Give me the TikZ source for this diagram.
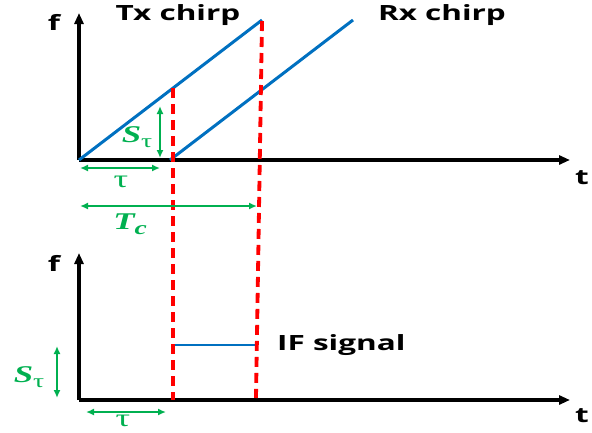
\documentclass[tikz,border=0pt]{standalone}
\usepackage{fontspec}
\setmainfont{Open Sans}[FakeStretch=1.5]
\newfontfamily\symfont{Liberation Serif}[FakeStretch=1.45]
\usepackage{tikz}
\usetikzlibrary{arrows.meta}
\definecolor{chirpblue}{RGB}{0,112,192}
\definecolor{markgreen}{RGB}{0,176,80}
\tikzset{
  axis/.style={line width=3.2pt, -{Triangle[length=11pt,width=9pt]}},
  chirp/.style={line width=3pt, chirpblue},
  cut/.style={line width=3.8pt, red, dash pattern=on 10pt off 6pt},
  span/.style={line width=1.8pt, markgreen, {Latex[length=8pt,width=7pt]}-{Latex[length=8pt,width=7pt]}},
  word/.style={font=\fontsize{21}{24}\selectfont\bfseries, inner sep=0pt},
  sym/.style={font=\fontsize{24}{26}\selectfont\symfont\bfseries\itshape, text=markgreen, inner sep=0pt},
  tau/.style={font=\fontsize{25}{26}\selectfont\symfont, text=markgreen, inner sep=0pt}
}
\newcommand{\subtau}{\raisebox{-5pt}{\normalfont\symfont\fontsize{19}{19}\selectfont τ}}
\begin{document}
\begin{tikzpicture}[x=1pt,y=-1pt]
\useasboundingbox (0,0) rectangle (592,432);
% top plot
\coordinate (o1) at (79,160);
\coordinate (f1) at (79,13);
\coordinate (t1) at (570,160);
\draw[axis] (o1) -- (f1);
\draw[axis] (o1) -- (t1);
\node[word] (flab1) at (54,22) {f};
\node[word] (tlab1) at (582,178) {t};
\coordinate (txend) at (262,20);
\coordinate (rxbeg) at (170,160);
\coordinate (rxend) at (353,20);
\draw[chirp] (o1) -- (txend);
\draw[chirp] (rxbeg) -- (rxend);
\node[word] (txlab) at (178,15) {Tx chirp};
\node[word] (rxlab) at (442,15) {Rx chirp};
% bottom plot
\coordinate (o2) at (79,400);
\coordinate (f2) at (79,253);
\coordinate (t2) at (570,400);
\draw[axis] (o2) -- (f2);
\draw[axis] (o2) -- (t2);
\node[word] (flab2) at (54,263) {f};
\node[word] (tlab2) at (582,416) {t};
\coordinate (ifbeg) at (172,345);
\coordinate (ifend) at (258,345);
\draw[chirp, line width=2.2pt] (ifbeg) -- (ifend);
\node[word, anchor=west] (iflab) at (277,345) {IF signal};
% red cuts
\coordinate (cutA) at (173,88);
\coordinate (cutAb) at (173,400);
\coordinate (cutB) at (262,21);
\coordinate (cutBb) at (256,398);
\draw[cut] (cutA) -- (cutAb);
\draw[cut] (cutB) -- (cutBb);
% green marks
\coordinate (sa) at (160,106);
\coordinate (sb) at (160,158);
\draw[span] (sa) -- (sb);
\node[sym] (slab1) at (137,137) {S\subtau};
\coordinate (ta) at (80,168);
\coordinate (tb) at (160,168);
\draw[span] (ta) -- (tb);
\node[tau] (taulab1) at (121,182) {τ};
\coordinate (ca) at (80,206);
\coordinate (cb) at (257,206);
\draw[span] (ca) -- (cb);
\node[sym] (tclab) at (130,224) {T\raisebox{-5pt}{\fontsize{19}{19}\selectfont c}};
\coordinate (sc) at (57,346);
\coordinate (sd) at (57,398);
\draw[span] (sc) -- (sd);
\node[sym] (slab2) at (29,377) {S\subtau};
\coordinate (tc) at (86,412);
\coordinate (td) at (166,412);
\draw[span] (tc) -- (td);
\node[tau] (taulab2) at (123,421) {τ};
\end{tikzpicture}
\end{document}
